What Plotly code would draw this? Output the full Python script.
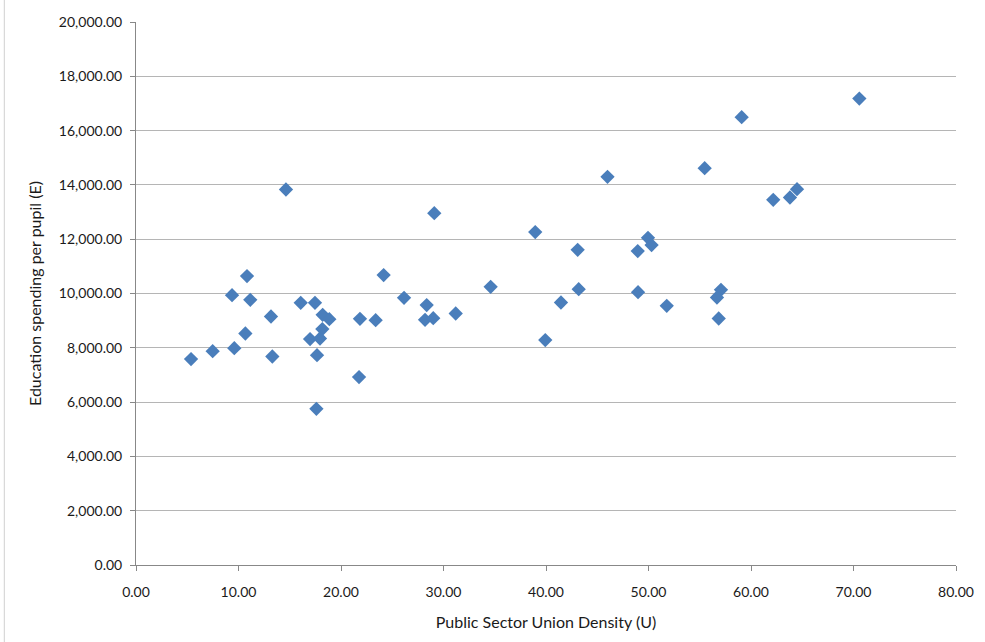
import plotly.graph_objects as go

union_density = [
    5.37, 7.48, 9.37, 9.59, 10.83, 10.67, 11.15, 13.17, 13.30, 14.63,
    16.07, 17.46, 18.21, 18.86, 18.18, 16.98, 17.95, 17.66, 17.60, 21.76,
    21.85, 23.38, 24.16, 26.15, 28.36, 28.20, 29.00, 29.10, 31.19,
    34.60, 38.95, 39.93, 41.46, 43.09, 43.19, 46.00, 48.95, 48.98, 49.95,
    50.30, 51.78,
    55.48, 59.09, 62.17, 63.80, 64.49, 70.57, 57.07, 56.68, 56.85,
]
spending = [
    7583, 7877, 9940, 7988, 10640, 8526, 9767, 9152, 7680, 13830,
    9657, 9657, 9215, 9056, 8688, 8320, 8342, 7730, 5753, 6920,
    9067, 9019, 10677, 9841, 9572, 9031, 9093, 12960, 9263,
    10246, 12261, 8283, 9668, 11609, 10161, 14297, 11561, 10050, 12051,
    11782, 9546,
    14617, 16496, 13450, 13535, 13844, 17181, 10136, 9852, 9079,
]

x_title = "Public Sector Union Density (U)"
y_title = "Education spending per pupil (E)"

font_family = "Lato, 'Open Sans', sans-serif"

fig = go.Figure(
    go.Scatter(
        x=union_density,
        y=spending,
        mode="markers",
        marker=dict(symbol="diamond", size=11, color="#4A7EBB", line=dict(width=0)),
        hoverinfo="x+y",
    )
)

fig.update_layout(
    width=985,
    height=642,
    margin=dict(l=136, r=29, t=22, b=77),
    paper_bgcolor="white",
    plot_bgcolor="white",
    font=dict(family=font_family, size=14, color="#1a1a1a"),
    showlegend=False,
    xaxis=dict(
        range=[0, 80],
        tickvals=[0, 10, 20, 30, 40, 50, 60, 70, 80],
        tickformat=",.2f",
        showgrid=False,
        zeroline=False,
        showline=True,
        linecolor="#888888",
        linewidth=1,
        ticks="outside",
        ticklen=5,
        tickcolor="#888888",
        tickfont=dict(size=14),
        ticklabelstandoff=9,
        title=dict(text=x_title, font=dict(size=16), standoff=18),
    ),
    yaxis=dict(
        range=[0, 20000],
        tickvals=list(range(0, 20001, 2000)),
        tickformat=",.2f",
        showgrid=True,
        gridcolor="#B5B5B5",
        gridwidth=1,
        zeroline=False,
        showline=True,
        linecolor="#888888",
        linewidth=1,
        ticks="outside",
        ticklen=5,
        tickcolor="#888888",
        tickfont=dict(size=14),
        ticklabelstandoff=5,
        title=dict(text=y_title, font=dict(size=16), standoff=13),
    ),
    shapes=[
        dict(type="line", xref="paper", yref="paper", x0=-0.1606, x1=-0.1606,
             y0=-0.2, y1=1.05, line=dict(color="#D0D0D0", width=1)),
    ],
)

fig.write_html("out.html")
